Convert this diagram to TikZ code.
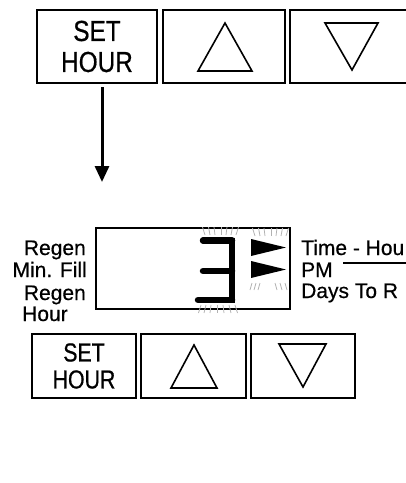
\documentclass[tikz,border=0pt]{standalone}
\usepackage{fontspec}
\setmainfont[FakeBold=0.5]{Liberation Sans}
\newfontfamily\condA[FakeStretch=0.84,FakeBold=0.6]{Liberation Sans}
\newfontfamily\condB[FakeStretch=0.82,FakeBold=0.6]{Liberation Sans}
\usetikzlibrary{arrows.meta}
\begin{document}
\begin{tikzpicture}[x=1pt,y=-1pt,
  btnbig/.style={draw=black,line width=2.2pt,minimum height=73pt,inner sep=0pt,
     align=center,font=\condA\fontsize{29}{31}\selectfont},
  btnsmall/.style={draw=black,line width=2pt,minimum height=64pt,inner sep=0pt,
     align=center,font=\condB\fontsize{26}{27}\selectfont},
  tri/.style={line width=1.6pt,line join=miter},
  seg/.style={line width=6.5pt,line cap=round},
  glow/.style={gray!60,line width=0.8pt},
  lbl/.style={inner sep=0pt,font=\fontsize{21}{22}\selectfont},
  conn/.style={line width=2pt}
]
\useasboundingbox (0,0) rectangle (406,483);
\clip (0,0) rectangle (406,483);

% ---- top buttons ----
\node[btnbig,minimum width=120pt] (set1) at (97,46.5) {SET\\HOUR};
\node[btnbig,minimum width=122pt] (up1) at (224,46.5) {};
\node[btnbig,minimum width=122pt] (dn1) at (351,46.5) {};
\draw[tri] (198,71) -- (252,71) -- (225,23) -- cycle;
\draw[tri] (325,23) -- (378,23) -- (352,70) -- cycle;

% ---- arrow ----
\coordinate (arrend) at (102,182);
\draw[line width=3pt,-{Triangle[width=14pt,length=16pt]}] ([xshift=5pt,yshift=-3pt]set1.south) -- (arrend);

% ---- display ----
\node[draw=black,line width=2pt,minimum width=194pt,minimum height=81pt,inner sep=0pt] (disp) at (193,268.5) {};

% digit 3
\draw[seg] (203,240.5) -- (232,240.5);
\draw[seg] (203,271) -- (232,271);
\draw[seg] (198,300) -- (232,300);
\draw[line width=6.5pt] (232,237.5) -- (232,303);
% pointers
\fill (251,239) -- (286,247.5) -- (251,256) -- cycle;
\fill (251,261) -- (286,269.5) -- (251,278) -- cycle;
% glow marks
\foreach \x/\d in {205/-2.5,210/-1.5,215/-1,221/0,226/1,231/1.5,236/2.5}
  \draw[glow] (\x,235) -- (\x+\d,227);
\foreach \x/\d in {255/-2.5,260/-1.5,265/-1,271/0,276/1,281/1.5,286/2.5}
  \draw[glow] (\x,236) -- (\x+\d,228);
\foreach \x/\d in {252/-2,256/-2,260/-2,275/2,280/2,285/2}
  \draw[glow] (\x,283) -- (\x+\d,290);
\foreach \x/\d in {201/-2.5,206/-2,211/-1,217/0,223/1,229/2,235/2.5}
  \draw[glow] (\x,305) -- (\x+\d,313);

% left labels
\node[lbl,anchor=base east] (l1) at (86,255) {Regen};
\node[lbl,anchor=base east] (l2) at (87,277) {Min. Fill};
\node[lbl,anchor=base east] (l3) at (86,300) {Regen};
\node[lbl,anchor=base west] (l4) at (22,321) {Hour};
% right labels
\node[lbl,anchor=base west] (r1) at (301,255) {Time - Hou};
\node[lbl,anchor=base west] (r2) at (301,277) {PM};
\node[lbl,anchor=base west] (r3) at (301,298) {Days To R};
\coordinate (lnA) at (343,263);
\coordinate (lnB) at (410,263);
\draw[conn] (lnA) -- (lnB);

% ---- bottom buttons ----
\node[btnsmall,minimum width=104pt] (set2) at (84,366) {SET\\HOUR};
\node[btnsmall,minimum width=105pt] (up2) at (193.5,366) {};
\node[btnsmall,minimum width=104pt] (dn2) at (303,366) {};
\draw[tri] (171,388) -- (217,388) -- (194,345) -- cycle;
\draw[tri] (279,344) -- (326,344) -- (303,387) -- cycle;
\end{tikzpicture}
\end{document}
